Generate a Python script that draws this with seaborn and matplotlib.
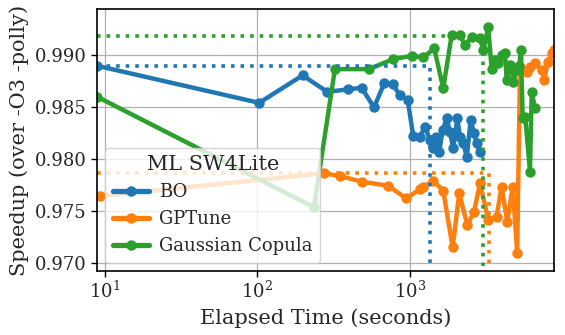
import pandas as pd
import matplotlib
matplotlib.use("Agg")
import matplotlib.pyplot as plt
import seaborn as sns

# elapsed time (s) and speedup for each tuner
bo_t = [8.9, 102.7, 197.6, 287, 390, 482, 581, 678, 770, 859, 966, 1051, 1163, 1253, 1352,
        1422, 1479, 1556, 1637, 1739, 1827, 1922, 2042, 2128, 2238, 2356, 2502, 2629, 2738, 2876]
bo_v = [0.98894, 0.98538, 0.98802, 0.98644, 0.98667, 0.98683, 0.98494, 0.98725, 0.98715, 0.98612,
        0.98564, 0.98218, 0.98212, 0.98308, 0.98180, 0.98100, 0.98212, 0.98067, 0.98276, 0.98388,
        0.98260, 0.98100, 0.98388, 0.98212, 0.98148, 0.98019, 0.98372, 0.98244, 0.98148, 0.98067]

gp_t = [9.27, 273, 347, 482, 721, 942, 1163, 1222, 1422, 1652, 1905, 2103, 2376, 2629, 2879,
        3262, 3693, 3988, 4345, 4715, 5047, 5263, 5826, 6120, 6603, 7300, 7610, 8000, 8490, 8800]
gp_v = [0.97641, 0.97860, 0.97834, 0.97779, 0.97740, 0.97619, 0.97705, 0.97725, 0.97789, 0.97692,
        0.97148, 0.97667, 0.97363, 0.97490, 0.97763, 0.97411, 0.97442, 0.97731, 0.97394, 0.97731,
        0.97096, 0.98880, 0.98837, 0.98885, 0.98917, 0.98853, 0.98757, 0.98933, 0.99013, 0.99050]

gc_t = [8.9, 234.7, 322, 538, 777, 1026, 1222, 1442, 1652, 1876, 2128, 2295, 2541, 2876, 3026,
        3262, 3433, 3600, 3793, 4000, 4196, 4304, 4500, 4644, 4757, 5005, 5200, 5343, 5481, 5700,
        6120, 6279, 6603]
gc_v = [0.98596, 0.97533, 0.98862, 0.98862, 0.98959, 0.98990, 0.98975, 0.99062, 0.98677, 0.99189,
        0.99189, 0.99093, 0.99173, 0.99158, 0.99045, 0.99263, 0.98860, 0.98949, 0.98920, 0.99000,
        0.99019, 0.98757, 0.98900, 0.98885, 0.98740, 0.98853, 0.98890, 0.99045, 0.98388, 0.98400,
        0.97875, 0.98644, 0.98485]

names = ["BO", "GPTune", "Gaussian Copula"]
best_v = [0.98894, 0.97860, 0.99183]
best_t = [1352, 3311, 2997]
x_min, x_max = 8.9, 8830
y_min, y_max = 0.96923, 0.99437
y_floor = 0.9697

df = pd.concat([
    pd.DataFrame({"t": bo_t, "v": bo_v, "tuner": names[0]}),
    pd.DataFrame({"t": gp_t, "v": gp_v, "tuner": names[1]}),
    pd.DataFrame({"t": gc_t, "v": gc_v, "tuner": names[2]}),
])

sns.set_style("white")
plt.rcParams["font.family"] = ["DejaVu Serif"]
plt.rcParams["mathtext.fontset"] = "dejavuserif"

fig, ax = plt.subplots(figsize=(5.65, 3.35), dpi=100)
fig.subplots_adjust(left=0.172, right=0.981, bottom=0.192, top=0.972)

colors = sns.color_palette("tab10", 3)
sns.lineplot(data=df, x="t", y="v", hue="tuner", hue_order=names, palette=colors,
             estimator=None, sort=False, marker="o", markersize=7.5, markeredgewidth=0,
             linewidth=3.2, ax=ax)

for c, bv, bt in zip(colors, best_v, best_t):
    ax.plot([x_min, bt, bt], [bv, bv, y_floor], ls=":", lw=2.6, color=c)

ax.set_xscale("log")
ax.set_xlim(x_min, x_max)
ax.set_ylim(y_min, y_max)
ax.set_yticks([0.970, 0.975, 0.980, 0.985, 0.990])
ax.minorticks_off()
ax.grid(True, color="#b0b0b0", lw=0.9)
for s in ax.spines.values():
    s.set_color("black")
    s.set_linewidth(1.2)
ax.tick_params(axis="both", which="major", labelsize=13, length=4, width=1, color="black",
               bottom=True, left=True)
ax.set_xlabel("Elapsed Time (seconds)", fontsize=15)
ax.set_ylabel("Speedup (over -O3 -polly)", fontsize=15)

leg = ax.legend(title="ML SW4Lite", loc="lower left", fontsize=13, title_fontsize=15,
                framealpha=0.8, borderaxespad=0.45, handletextpad=0.6)
for ln in leg.get_lines():
    ln.set_linewidth(3.8)

fig.savefig("out.png", dpi=100)
